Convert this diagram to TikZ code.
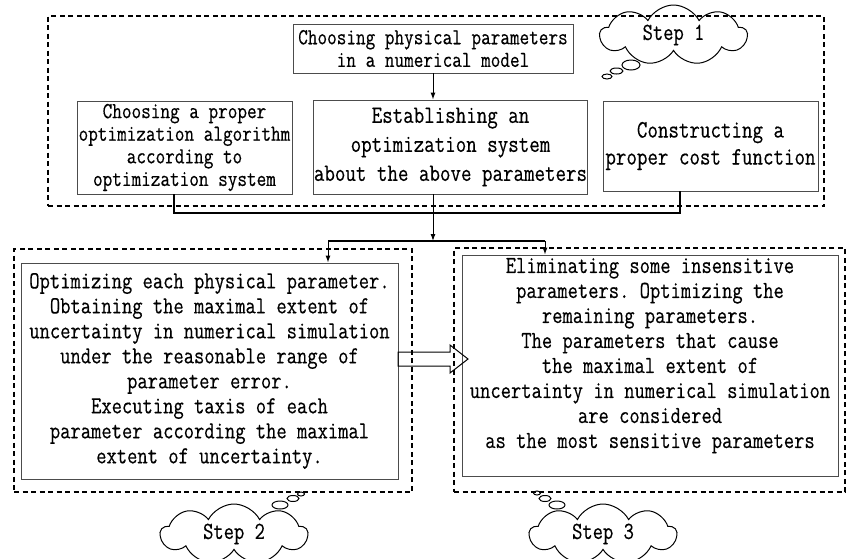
\documentclass[tikz,border=0pt]{standalone}
\usepackage{fontspec}
\setmonofont[FakeStretch=0.816,FakeBold=0.4]{Latin Modern Mono}
\usetikzlibrary{arrows.meta,shapes.symbols,calc}
\newcommand\boxsmall{\fontsize{22.9}{22.6}\selectfont}
\newcommand\boxmid{\fontsize{25}{27}\selectfont}
\newcommand\boxlarge{\fontsize{24.5}{25}\selectfont}
\tikzstyle{every node}=[font=\ttfamily]
\tikzstyle{frame}=[draw,dashed,line width=1.2pt,dash pattern=on 5pt off 3.5pt,inner sep=0pt]
\tikzstyle{box}=[draw=black!70,line width=0.9pt,inner sep=0pt,align=center]
\tikzstyle{bar}=[line width=1.8pt]
\tikzstyle{arr}=[line width=1pt,-{Latex[length=7pt,width=5pt]}]
\tikzstyle{thought}=[cloud,draw,line width=1pt,cloud puffs=9,cloud puff arc=125,aspect=2.4,inner sep=0pt,font=\ttfamily\fontsize{24.5}{25}\selectfont]

\begin{document}
\begin{tikzpicture}[x=1pt,y=-1pt]
  \useasboundingbox (0,0) rectangle (847,558);
  \clip (0,0) rectangle (847,558);
  % dashed frames
  \node[frame,minimum width=776,minimum height=190] (frame1) at (436,111) {};
  \node[frame,minimum width=398,minimum height=243] (frame2) at (213,370.5) {};
  \node[frame,minimum width=391,minimum height=244] (frame3) at (649.5,370) {};
  % step 1
  \node[box,minimum width=280,minimum height=49,font=\ttfamily\boxsmall] (choose) at (433,48.5)
    {Choosing physical parameters\\in a numerical model};
  \node[box,minimum width=215,minimum height=93,font=\ttfamily\boxsmall] (alg) at (184.5,147.5)
    {Choosing a proper\\optimization algorithm\\according to\\optimization system};
  \node[box,minimum width=273,minimum height=94,font=\ttfamily\fontsize{25}{29}\selectfont] (sys) at (450.5,147)
    {Establishing an\\optimization system\\about the above parameters};
  \node[box,minimum width=215,minimum height=90,font=\ttfamily\boxmid] (cost) at (710.5,146)
    {Constructing a\\proper cost function};
  % steps 2 and 3
  \node[box,minimum width=377,minimum height=216,font=\ttfamily\boxlarge] (sens) at (209.5,371)
    {Optimizing each physical parameter.\\Obtaining the maximal extent of\\uncertainty in numerical simulation\\under the reasonable range of\\parameter error.\\Executing taxis of each\\parameter according the maximal\\extent of uncertainty.};
  \node[box,minimum width=376,minimum height=221,font=\ttfamily\boxlarge] (elim) at (650,365.5)
    {Eliminating some insensitive\\parameters. Optimizing the\\remaining parameters.\\The parameters that cause\\the maximal extent of\\uncertainty in numerical simulation\\are considered\\as the most sensitive parameters\\~};
  % connectors
  \coordinate (join) at (433,213);
  \coordinate (split) at (433,241);
  \draw[arr] (choose.south) -- (choose.south |- sys.north);
  \draw[bar] ([xshift=-10.5]alg.south) |- (join);
  \draw[bar] ([xshift=-30.5]cost.south) |- (join);
  \draw[line width=1pt] (join |- sys.south) -- (join);
  \draw[arr] (join) -- (split);
  \draw[bar] ([xshift=118.5]sens.north |- split) -- ([xshift=-105]elim.north |- split);
  \draw[arr] ([xshift=118.5]sens.north |- split) -- ([xshift=118.5]sens.north);
  \draw[arr] ([xshift=-105]elim.north |- split) -- ([xshift=-105]elim.north);
  % hollow arrow
  \draw[line width=1pt,line join=miter] (398,352) -- (450,352) -- (450,345) -- (468,359)
    -- (450,373) -- (450,366) -- (398,366) -- cycle;
  % thought clouds
  \node[thought,minimum width=147,minimum height=60] (cloud1) at (673.5,35) {Step 1};
  \draw[line width=1pt] (631,65) ellipse (9 and 5) (616.5,71) ellipse (6.5 and 3) (607,76.5) ellipse (5 and 2.5);
  \node[thought,minimum width=147,minimum height=60] (cloud2) at (234,534) {Step 2};
  \draw[line width=1pt] (301,494) ellipse (3.5 and 2) (293,498.5) ellipse (6 and 3) (280,505) ellipse (8 and 4);
  \node[thought,minimum width=147,minimum height=60] (cloud3) at (603,534) {Step 3};
  \draw[line width=1pt] (537,493) ellipse (3.5 and 2) (545,498.5) ellipse (6 and 3) (557,505) ellipse (8 and 4);
\end{tikzpicture}
\end{document}
